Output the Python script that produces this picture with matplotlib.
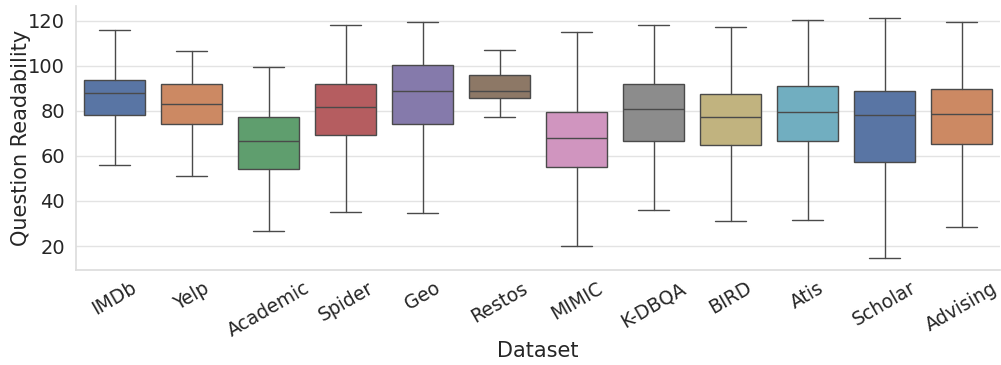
import matplotlib
matplotlib.use("Agg")
import matplotlib.pyplot as plt
import seaborn as sns

# --- data ---
datasets = ["IMDb", "Yelp", "Academic", "Spider", "Geo", "Restos",
            "MIMIC", "K-DBQA", "BIRD", "Atis", "Scholar", "Advising"]
whisker_low = [56.0, 50.9, 26.8, 35.1, 34.7, 77.3, 20.0, 36.0, 30.9, 31.6, 14.7, 28.6]
q1          = [78.2, 74.0, 54.2, 69.2, 74.0, 85.8, 55.1, 66.5, 64.9, 66.5, 57.3, 65.3]
median      = [87.8, 83.1, 66.7, 81.8, 88.9, 88.9, 68.0, 80.9, 77.3, 79.4, 78.2, 78.7]
q3          = [93.8, 91.8, 77.2, 92.0, 100.3, 96.1, 79.6, 92.0, 87.7, 91.0, 88.7, 89.8]
whisker_high = [116.1, 106.7, 99.4, 118.2, 119.4, 106.9, 115.2, 118.2, 117.3, 120.3, 121.2, 119.4]

sns.set_theme(style="whitegrid", rc={"grid.color": "#e3e3e3", "axes.edgecolor": "#dddddd"})

stats = []
for name, lo, a, m, b, hi in zip(datasets, whisker_low, q1, median, q3, whisker_high):
    stats.append({"label": name, "whislo": lo, "q1": a, "med": m, "q3": b,
                  "whishi": hi, "fliers": []})

pal = sns.color_palette("deep", 10)
colors = [sns.desaturate(pal[i % 10], 0.75) for i in range(len(datasets))]

fig, ax = plt.subplots(figsize=(10.01, 3.65), dpi=100)
line = "#4a4a4a"
bp = ax.bxp(stats, positions=range(len(datasets)), widths=0.8, patch_artist=True,
            showfliers=False,
            boxprops=dict(edgecolor=line, linewidth=1.0),
            medianprops=dict(color=line, linewidth=1.0),
            whiskerprops=dict(color=line, linewidth=1.0),
            capprops=dict(color=line, linewidth=1.0))
for patch, c in zip(bp["boxes"], colors):
    patch.set_facecolor(c)

ax.set_xlim(-0.5, len(datasets) - 0.5)
ax.set_ylim(9.3, 126.7)
ax.set_yticks([20, 40, 60, 80, 100, 120])
ax.tick_params(axis="y", labelsize=14, pad=2)
ax.tick_params(axis="x", labelsize=13.5, pad=0)
plt.setp(ax.get_xticklabels(), rotation=30, ha="center")
ax.xaxis.grid(False)
ax.set_xlabel("Dataset", fontsize=15, labelpad=0)
ax.set_ylabel("Question Readability", fontsize=15, labelpad=-2)
sns.despine(ax=ax)

fig.subplots_adjust(left=0.076, right=0.999, top=0.984, bottom=0.26)
fig.savefig("out.png", dpi=100)
